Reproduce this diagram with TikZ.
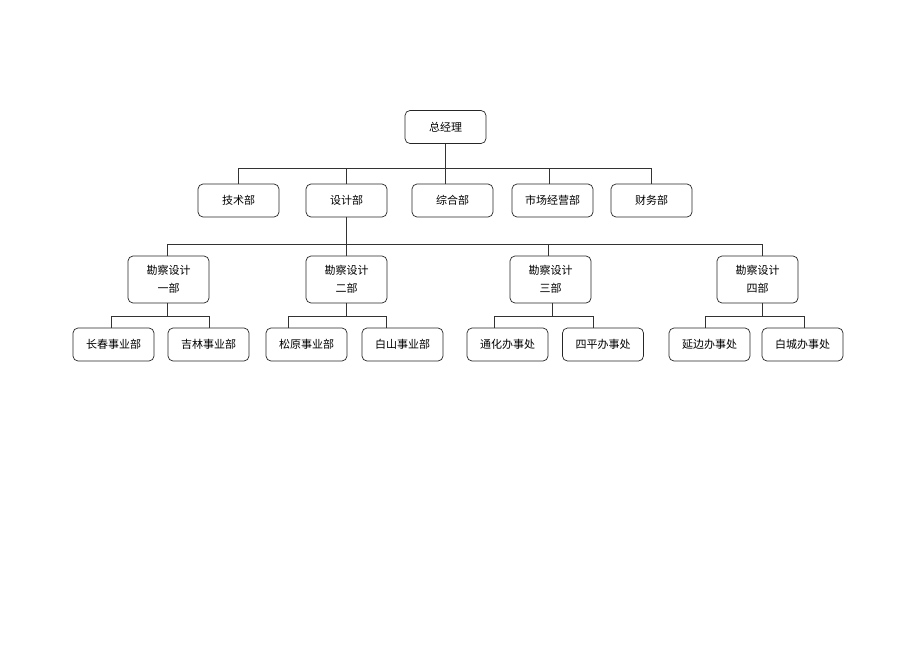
\documentclass[tikz,border=0pt]{standalone}
\usepackage{fontspec}
\setmainfont{Noto Sans CJK SC}
\begin{document}
\begin{tikzpicture}[x=1pt,y=-1pt,
  box/.style={draw=black!85, line width=0.7pt, rounded corners=5pt, minimum width=81pt, minimum height=33pt, inner sep=0pt, font=\fontsize{11}{18}\selectfont, align=center},
  tall/.style={box, minimum height=47pt},
  conn/.style={draw=black!80, line width=0.7pt}]
\fill[white] (0,0) rectangle (920,651);
\useasboundingbox (0,0) rectangle (920,651);
% level 0
\node[box] (gm) at (445.5,127) {总经理};
% level 1
\node[box] (js) at (238.5,200.5) {技术部};
\node[box] (sj) at (346.5,200.5) {设计部};
\node[box] (zh) at (452.5,200.5) {综合部};
\node[box] (sc) at (552.5,200.5) {市场经营部};
\node[box] (cw) at (651.5,200.5) {财务部};
% level 2
\node[tall] (k1) at (168.5,279.5) {勘察设计\\一部};
\node[tall] (k2) at (346.5,279.5) {勘察设计\\二部};
\node[tall] (k3) at (550.5,279.5) {勘察设计\\三部};
\node[tall] (k4) at (757.5,279.5) {勘察设计\\四部};
% level 3
\node[box] (cc) at (113.5,344.5) {长春事业部};
\node[box] (jl) at (208.5,344.5) {吉林事业部};
\node[box] (sy) at (306.5,344.5) {松原事业部};
\node[box] (bs) at (402.5,344.5) {白山事业部};
\node[box] (th) at (507.5,344.5) {通化办事处};
\node[box] (sp) at (603,344.5) {四平办事处};
\node[box] (yb) at (709.5,344.5) {延边办事处};
\node[box] (bc) at (802.5,344.5) {白城办事处};
% buses
\coordinate (bus1) at (0,168);
\coordinate (bus2) at (0,244);
\coordinate (bus3) at (0,316);
% level 0 -> 1
\draw[conn] (gm.south) -- (gm.south |- zh.north);
\draw[conn] (js.north) |- (cw.north |- bus1) -- (cw.north);
\draw[conn] (sj.north) -- (sj.north |- bus1);
\draw[conn] ([xshift=-3.5]sc.north) -- ([xshift=-3.5]sc.north |- bus1);
% level 1 -> 2
\draw[conn] (sj.south) -- (sj.south |- bus2);
\draw[conn] ([xshift=-1.5]k1.north) |- ([xshift=4.5]k4.north |- bus2) -- ([xshift=4.5]k4.north);
\draw[conn] (k2.north) -- (k2.north |- bus2);
\draw[conn] ([xshift=-2.5]k3.north) -- ([xshift=-2.5]k3.north |- bus2);
% level 2 -> 3
\draw[conn] ([xshift=-1.5]k1.south) -- ([xshift=-1.5]k1.south |- bus3);
\draw[conn] ([xshift=-2.5]cc.north) |- ([xshift=0.5]jl.north |- bus3) -- ([xshift=0.5]jl.north);
\draw[conn] (k2.south) -- (k2.south |- bus3);
\draw[conn] ([xshift=-18.5]sy.north) |- ([xshift=-16.5]bs.north |- bus3) -- ([xshift=-16.5]bs.north);
\draw[conn] ([xshift=1.5]k3.south) -- ([xshift=1.5]k3.south |- bus3);
\draw[conn] ([xshift=-13.5]th.north) |- ([xshift=-10]sp.north |- bus3) -- ([xshift=-10]sp.north);
\draw[conn] ([xshift=4.5]k4.south) -- ([xshift=4.5]k4.south |- bus3);
\draw[conn] ([xshift=-4.5]yb.north) |- ([xshift=1.5]bc.north |- bus3) -- ([xshift=1.5]bc.north);
\end{tikzpicture}
\end{document}
